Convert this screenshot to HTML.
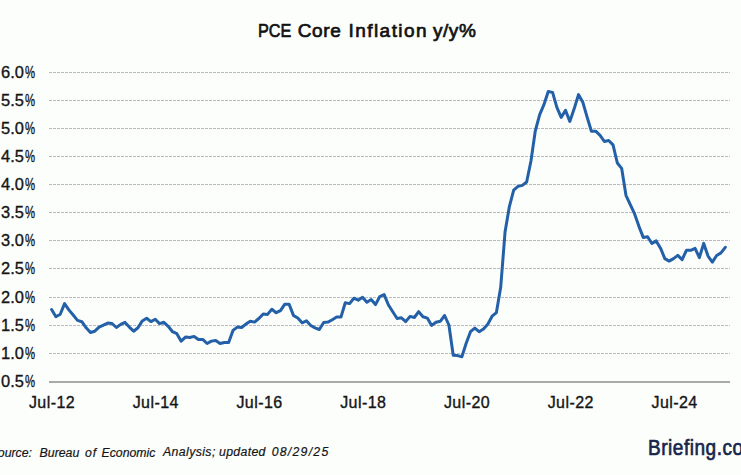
<!DOCTYPE html>
<html><head><meta charset="utf-8">
<style>
html,body{margin:0;padding:0;}
body{width:741px;height:475px;background:#fcfefc;position:relative;overflow:hidden;font-family:"Liberation Sans",sans-serif;color:#111;}
svg{position:absolute;left:0;top:0;}
.t{position:absolute;white-space:pre;line-height:1;}
.yl{right:706.2px;text-align:right;transform:scaleX(0.8892);transform-origin:100% 0;}
.xl{width:120px;text-align:center;}
.logo{position:absolute;left:647.5px;top:435px;font-weight:normal;font-size:22px;line-height:26px;white-space:nowrap;color:#17264a;-webkit-text-stroke:0.7px #17264a;transform-origin:0 0;transform:scaleX(0.865);letter-spacing:0.6px;}
</style></head><body>
<svg width="741" height="475" viewBox="0 0 741 475">
<line x1="49" y1="72.5" x2="730" y2="72.5" stroke="#bdb9bd" stroke-width="1" stroke-dasharray="3 1"/>
<line x1="49" y1="100.5" x2="730" y2="100.5" stroke="#bdb9bd" stroke-width="1" stroke-dasharray="3 1"/>
<line x1="49" y1="128.5" x2="730" y2="128.5" stroke="#bdb9bd" stroke-width="1" stroke-dasharray="3 1"/>
<line x1="49" y1="156.5" x2="730" y2="156.5" stroke="#bdb9bd" stroke-width="1" stroke-dasharray="3 1"/>
<line x1="49" y1="184.5" x2="730" y2="184.5" stroke="#bdb9bd" stroke-width="1" stroke-dasharray="3 1"/>
<line x1="49" y1="212.5" x2="730" y2="212.5" stroke="#bdb9bd" stroke-width="1" stroke-dasharray="3 1"/>
<line x1="49" y1="240.5" x2="730" y2="240.5" stroke="#bdb9bd" stroke-width="1" stroke-dasharray="3 1"/>
<line x1="49" y1="268.5" x2="730" y2="268.5" stroke="#bdb9bd" stroke-width="1" stroke-dasharray="3 1"/>
<line x1="49" y1="297.5" x2="730" y2="297.5" stroke="#bdb9bd" stroke-width="1" stroke-dasharray="3 1"/>
<line x1="49" y1="325.5" x2="730" y2="325.5" stroke="#bdb9bd" stroke-width="1" stroke-dasharray="3 1"/>
<line x1="49" y1="353.5" x2="730" y2="353.5" stroke="#bdb9bd" stroke-width="1" stroke-dasharray="3 1"/>
<rect x="49" y="381" width="681" height="2" fill="#a9a9a9"/>
<path d="M51.60,309.60 L55.92,316.80 L60.24,314.30 L64.56,303.60 L68.87,309.90 L73.19,315.00 L77.51,320.40 L81.83,321.70 L86.15,327.80 L90.47,332.50 L94.79,331.20 L99.10,327.10 L103.42,325.10 L107.74,323.10 L112.06,323.50 L116.38,327.50 L120.70,324.40 L125.02,322.40 L129.33,327.10 L133.65,331.20 L137.97,327.80 L142.29,320.90 L146.61,318.20 L150.93,321.60 L155.25,319.30 L159.56,323.60 L163.88,322.30 L168.20,326.30 L172.52,331.70 L176.84,333.70 L181.16,341.20 L185.48,337.10 L189.79,337.50 L194.11,336.40 L198.43,339.40 L202.75,339.40 L207.07,343.50 L211.39,341.12 L215.71,340.50 L220.02,343.50 L224.34,342.50 L228.66,342.50 L232.98,330.40 L237.30,327.10 L241.62,327.50 L245.94,324.10 L250.26,321.20 L254.57,322.10 L258.89,318.50 L263.21,314.00 L267.53,314.40 L271.85,309.30 L276.17,312.70 L280.49,310.60 L284.80,304.20 L289.12,304.20 L293.44,315.40 L297.76,318.10 L302.08,322.80 L306.40,320.80 L310.72,325.50 L315.03,327.90 L319.35,329.50 L323.67,322.50 L327.99,322.10 L332.31,319.80 L336.63,317.10 L340.95,317.10 L345.26,302.70 L349.58,303.60 L353.90,298.20 L358.22,300.20 L362.54,297.30 L366.86,302.30 L371.18,299.60 L375.49,304.60 L379.81,296.50 L384.13,294.60 L388.45,305.00 L392.77,311.70 L397.09,318.50 L401.41,317.80 L405.72,321.60 L410.04,316.40 L414.36,317.50 L418.68,311.70 L423.00,316.70 L427.32,318.10 L431.64,325.40 L435.95,322.30 L440.27,321.30 L444.59,315.50 L448.91,325.00 L453.23,355.30 L457.55,355.60 L461.87,356.70 L466.18,343.20 L470.50,331.70 L474.82,328.10 L479.14,331.70 L483.46,329.00 L487.78,324.30 L492.10,316.20 L496.41,312.60 L500.73,287.00 L505.05,232.00 L509.37,206.60 L513.69,190.20 L518.01,186.40 L522.33,185.40 L526.64,182.00 L530.96,161.00 L535.28,131.00 L539.60,114.80 L543.92,104.70 L548.24,91.50 L552.56,92.40 L556.87,107.30 L561.19,117.40 L565.51,110.40 L569.83,121.40 L574.15,108.86 L578.47,94.60 L582.79,102.20 L587.11,117.09 L591.42,131.20 L595.74,131.20 L600.06,135.30 L604.38,141.50 L608.70,140.50 L613.02,144.90 L617.34,163.00 L621.65,168.32 L625.97,195.30 L630.29,204.70 L634.61,213.95 L638.93,226.33 L643.25,237.40 L647.57,236.70 L651.88,243.50 L656.20,240.90 L660.52,248.20 L664.84,258.60 L669.16,261.10 L673.48,258.60 L677.80,255.40 L682.11,259.60 L686.43,250.30 L690.75,250.30 L695.07,248.40 L699.39,257.60 L703.71,243.40 L708.03,256.10 L712.34,262.10 L716.66,255.50 L720.98,252.90 L725.30,247.30" fill="none" stroke="#2360a8" stroke-width="3" stroke-linejoin="round" stroke-linecap="round"/>
</svg>
<div class="t" style="left:257.55px;top:20.90px;font-size:19px;color:#111;-webkit-text-stroke:0.7px #111;transform:scaleX(0.8526);transform-origin:0 0;">PCE</div>
<div class="t" style="left:297.73px;top:20.90px;font-size:19px;color:#111;-webkit-text-stroke:0.7px #111;letter-spacing:0.6px;">Core</div>
<div class="t" style="left:348.52px;top:20.90px;font-size:19px;color:#111;-webkit-text-stroke:0.7px #111;letter-spacing:1.44px;">Inflation</div>
<div class="t" style="left:432.90px;top:20.90px;font-size:19px;color:#111;-webkit-text-stroke:0.7px #111;letter-spacing:0.6px;">y/y%</div>
<div class="t" style="left:0.80px;top:64.90px;font-size:16.7px;color:#151515;-webkit-text-stroke:0.35px #151515;transform:scaleX(0.985);transform-origin:0 0;">6.0</div>
<div class="t" style="left:24.90px;top:64.90px;font-size:16.7px;color:#151515;-webkit-text-stroke:0.35px #151515;transform:scaleX(0.68);transform-origin:0 0;">%</div>
<div class="t" style="left:0.80px;top:92.90px;font-size:16.7px;color:#151515;-webkit-text-stroke:0.35px #151515;transform:scaleX(0.985);transform-origin:0 0;">5.5</div>
<div class="t" style="left:24.90px;top:92.90px;font-size:16.7px;color:#151515;-webkit-text-stroke:0.35px #151515;transform:scaleX(0.68);transform-origin:0 0;">%</div>
<div class="t" style="left:0.80px;top:120.90px;font-size:16.7px;color:#151515;-webkit-text-stroke:0.35px #151515;transform:scaleX(0.985);transform-origin:0 0;">5.0</div>
<div class="t" style="left:24.90px;top:120.90px;font-size:16.7px;color:#151515;-webkit-text-stroke:0.35px #151515;transform:scaleX(0.68);transform-origin:0 0;">%</div>
<div class="t" style="left:0.80px;top:148.90px;font-size:16.7px;color:#151515;-webkit-text-stroke:0.35px #151515;transform:scaleX(0.985);transform-origin:0 0;">4.5</div>
<div class="t" style="left:24.90px;top:148.90px;font-size:16.7px;color:#151515;-webkit-text-stroke:0.35px #151515;transform:scaleX(0.68);transform-origin:0 0;">%</div>
<div class="t" style="left:0.80px;top:176.90px;font-size:16.7px;color:#151515;-webkit-text-stroke:0.35px #151515;transform:scaleX(0.985);transform-origin:0 0;">4.0</div>
<div class="t" style="left:24.90px;top:176.90px;font-size:16.7px;color:#151515;-webkit-text-stroke:0.35px #151515;transform:scaleX(0.68);transform-origin:0 0;">%</div>
<div class="t" style="left:0.80px;top:204.90px;font-size:16.7px;color:#151515;-webkit-text-stroke:0.35px #151515;transform:scaleX(0.985);transform-origin:0 0;">3.5</div>
<div class="t" style="left:24.90px;top:204.90px;font-size:16.7px;color:#151515;-webkit-text-stroke:0.35px #151515;transform:scaleX(0.68);transform-origin:0 0;">%</div>
<div class="t" style="left:0.80px;top:233.20px;font-size:16.7px;color:#151515;-webkit-text-stroke:0.35px #151515;transform:scaleX(0.985);transform-origin:0 0;">3.0</div>
<div class="t" style="left:24.90px;top:233.20px;font-size:16.7px;color:#151515;-webkit-text-stroke:0.35px #151515;transform:scaleX(0.68);transform-origin:0 0;">%</div>
<div class="t" style="left:0.80px;top:261.20px;font-size:16.7px;color:#151515;-webkit-text-stroke:0.35px #151515;transform:scaleX(0.985);transform-origin:0 0;">2.5</div>
<div class="t" style="left:24.90px;top:261.20px;font-size:16.7px;color:#151515;-webkit-text-stroke:0.35px #151515;transform:scaleX(0.68);transform-origin:0 0;">%</div>
<div class="t" style="left:0.80px;top:289.50px;font-size:16.7px;color:#151515;-webkit-text-stroke:0.35px #151515;transform:scaleX(0.985);transform-origin:0 0;">2.0</div>
<div class="t" style="left:24.90px;top:289.50px;font-size:16.7px;color:#151515;-webkit-text-stroke:0.35px #151515;transform:scaleX(0.68);transform-origin:0 0;">%</div>
<div class="t" style="left:0.80px;top:317.70px;font-size:16.7px;color:#151515;-webkit-text-stroke:0.35px #151515;transform:scaleX(0.985);transform-origin:0 0;">1.5</div>
<div class="t" style="left:24.90px;top:317.70px;font-size:16.7px;color:#151515;-webkit-text-stroke:0.35px #151515;transform:scaleX(0.68);transform-origin:0 0;">%</div>
<div class="t" style="left:0.80px;top:346.00px;font-size:16.7px;color:#151515;-webkit-text-stroke:0.35px #151515;transform:scaleX(0.985);transform-origin:0 0;">1.0</div>
<div class="t" style="left:24.90px;top:346.00px;font-size:16.7px;color:#151515;-webkit-text-stroke:0.35px #151515;transform:scaleX(0.68);transform-origin:0 0;">%</div>
<div class="t" style="left:0.80px;top:373.90px;font-size:16.7px;color:#151515;-webkit-text-stroke:0.35px #151515;transform:scaleX(0.985);transform-origin:0 0;">0.5</div>
<div class="t" style="left:24.90px;top:373.90px;font-size:16.7px;color:#151515;-webkit-text-stroke:0.35px #151515;transform:scaleX(0.68);transform-origin:0 0;">%</div>
<div class="t xl" style="left:-8.00px;top:394.8px;font-size:16px;color:#151515;letter-spacing:0.42px;-webkit-text-stroke:0.35px #151515;">Jul-12</div>
<div class="t xl" style="left:95.76px;top:394.8px;font-size:16px;color:#151515;letter-spacing:0.42px;-webkit-text-stroke:0.35px #151515;">Jul-14</div>
<div class="t xl" style="left:199.51px;top:394.8px;font-size:16px;color:#151515;letter-spacing:0.42px;-webkit-text-stroke:0.35px #151515;">Jul-16</div>
<div class="t xl" style="left:303.27px;top:394.8px;font-size:16px;color:#151515;letter-spacing:0.42px;-webkit-text-stroke:0.35px #151515;">Jul-18</div>
<div class="t xl" style="left:407.02px;top:394.8px;font-size:16px;color:#151515;letter-spacing:0.42px;-webkit-text-stroke:0.35px #151515;">Jul-20</div>
<div class="t xl" style="left:510.78px;top:394.8px;font-size:16px;color:#151515;letter-spacing:0.42px;-webkit-text-stroke:0.35px #151515;">Jul-22</div>
<div class="t xl" style="left:614.54px;top:394.8px;font-size:16px;color:#151515;letter-spacing:0.42px;-webkit-text-stroke:0.35px #151515;">Jul-24</div>
<div class="t" style="left:-10.40px;top:446.60px;font-style:italic;font-size:12.3px;color:#151515;-webkit-text-stroke:0.2px #151515;">Source:</div>
<div class="t" style="left:39.60px;top:446.60px;font-style:italic;font-size:12.3px;color:#151515;-webkit-text-stroke:0.2px #151515;">Bureau</div>
<div class="t" style="left:85.10px;top:446.60px;font-style:italic;font-size:12.3px;color:#151515;-webkit-text-stroke:0.2px #151515;letter-spacing:0.8px;">of</div>
<div class="t" style="left:101.50px;top:446.60px;font-style:italic;font-size:12.3px;color:#151515;-webkit-text-stroke:0.2px #151515;">Economic</div>
<div class="t" style="left:163.00px;top:446.10px;font-style:italic;font-size:12.3px;color:#151515;-webkit-text-stroke:0.2px #151515;letter-spacing:0.39px;">Analysis;</div>
<div class="t" style="left:219.00px;top:446.10px;font-style:italic;font-size:12.3px;color:#151515;-webkit-text-stroke:0.2px #151515;letter-spacing:0.33px;">updated</div>
<div class="t" style="left:271.70px;top:446.10px;font-style:italic;font-size:12.3px;color:#151515;-webkit-text-stroke:0.2px #151515;letter-spacing:1.24px;">08/29/25</div>
<div class="logo">Briefing.com</div>
</body></html>
